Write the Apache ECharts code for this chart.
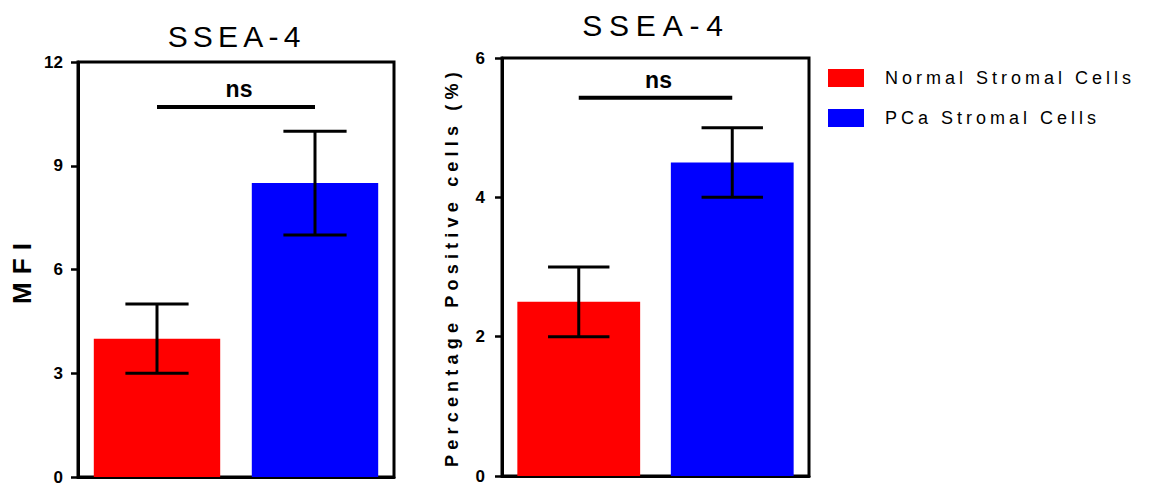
<!DOCTYPE html>
<html>
<head>
<meta charset="utf-8">
<script src="https://cdn.jsdelivr.net/npm/echarts@6/dist/echarts.min.js"></script>
<style>html,body{margin:0;padding:0;background:#fff}#c{width:1149px;height:488px}</style>
</head>
<body>
<div id="c"></div>
<script>
const categories = ['Normal Stromal Cells', 'PCa Stromal Cells'];
const mfiMean = [4, 8.5];
const mfiLow = [3, 7];
const mfiHigh = [5, 10];
const pctMean = [2.5, 4.5];
const pctLow = [2, 4];
const pctHigh = [3, 5];
const nsLevels = [10.7, 5.43];
const panelTitles = ['SSEA-4', 'SSEA-4'];
const yNames = ['MFI', 'Percentage Positive cells (%)'];
const colors = ['#ff0000', '#0000ff'];
const FONT = "'Liberation Sans', Arial, sans-serif";

// letter spacing (px) of the source figure's text, by string
const spacing = {'Normal Stromal Cells': 4, 'PCa Stromal Cells': 4, 'MFI': 8, 'Percentage Positive cells (%)': 5.2};
const titleSpacing = [5.2, 6.8];

const chart = echarts.init(document.getElementById('c'), null, {renderer: 'svg'});

function yAxisCfg(gi, max, interval, name, nameGap, nameSize, margin) {
  return {
    gridIndex: gi, type: 'value', min: 0, max: max, interval: interval,
    name: name, nameLocation: 'middle', nameGap: nameGap, nameRotate: 90,
    nameTextStyle: {fontFamily: FONT, fontWeight: 'bold', fontSize: nameSize, color: '#000'},
    axisLine: {show: true, lineStyle: {color: '#000', width: 3}},
    axisTick: {show: true, length: 7, lineStyle: {color: '#000', width: 2.5}},
    axisLabel: {fontFamily: FONT, fontWeight: 'bold', fontSize: 17, color: '#000', margin: margin},
    splitLine: {show: false}
  };
}
function xAxisCfg(gi) {
  return {
    gridIndex: gi, type: 'category', data: categories,
    axisLine: {show: true, lineStyle: {color: '#000', width: 3}},
    axisTick: {show: false}, axisLabel: {show: false}, splitLine: {show: false}
  };
}
function barSeries(gi, means) {
  return categories.map((name, i) => ({
    name: name, type: 'bar', xAxisIndex: gi, yAxisIndex: gi,
    data: means.map((v, j) => j === i ? v : '-'),
    barWidth: '80%', barGap: '-100%',
    itemStyle: {color: colors[i]}, z: 2
  }));
}
function errSeries(gi, lows, highs) {
  return {
    name: 'err' + gi, type: 'custom', xAxisIndex: gi, yAxisIndex: gi, z: 5,
    data: categories.map((c, i) => [i, lows[i], highs[i]]),
    renderItem: function (params, api) {
      const x = api.value(0);
      const lo = api.coord([x, api.value(1)]);
      const hi = api.coord([x, api.value(2)]);
      const half = api.size([1, 0])[0] * 0.2;
      const st = {stroke: '#000', lineWidth: 3};
      return {type: 'group', children: [
        {type: 'line', shape: {x1: lo[0], y1: lo[1], x2: hi[0], y2: hi[1]}, style: st},
        {type: 'line', shape: {x1: lo[0] - half, y1: lo[1], x2: lo[0] + half, y2: lo[1]}, style: st},
        {type: 'line', shape: {x1: hi[0] - half, y1: hi[1], x2: hi[0] + half, y2: hi[1]}, style: st}
      ]};
    }
  };
}
function nsSeries(gi, level) {
  return {
    name: 'ns' + gi, type: 'custom', xAxisIndex: gi, yAxisIndex: gi, z: 5,
    data: [[0, 1, level]],
    renderItem: function (params, api) {
      const a = api.coord([api.value(0), api.value(2)]);
      const b = api.coord([api.value(1), api.value(2)]);
      return {type: 'group', children: [
        {type: 'line', shape: {x1: a[0], y1: a[1], x2: b[0], y2: b[1]}, style: {stroke: '#000', lineWidth: 4}},
        {type: 'text', x: (a[0] + b[0]) / 2 + 3, y: a[1] - 6,
         style: {text: 'ns', align: 'center', verticalAlign: 'bottom', fill: '#000',
                 font: "bold 23px " + FONT}}
      ]};
    }
  };
}

const option = {
  animation: false,
  backgroundColor: '#fff',
  grid: [
    {left: 78, top: 62, width: 316, height: 415, show: true, borderColor: '#000', borderWidth: 3, containLabel: false, outerBoundsMode: 'none'},
    {left: 502, top: 58, width: 307, height: 418, show: true, borderColor: '#000', borderWidth: 3, containLabel: false, outerBoundsMode: 'none'}
  ],
  xAxis: [xAxisCfg(0), xAxisCfg(1)],
  yAxis: [
    yAxisCfg(0, 12, 3, yNames[0], 43, 26, 15),
    yAxisCfg(1, 6, 2, yNames[1], 41, 18, 17)
  ],
  legend: {
    data: categories, orient: 'vertical', left: 828, top: 69, padding: 0,
    itemWidth: 36, itemHeight: 18, itemGap: 22, icon: 'rect',
    textStyle: {fontFamily: FONT, fontSize: 18, color: '#000', padding: [0, 0, 0, 16]}
  },
  graphic: [
    {type: 'text', x: 236.6, y: 36, style: {text: panelTitles[0], align: 'center', verticalAlign: 'middle', fill: '#000', font: "30px " + FONT}},
    {type: 'text', x: 656, y: 25, style: {text: panelTitles[1], align: 'center', verticalAlign: 'middle', fill: '#000', font: "30px " + FONT}}
  ],
  series: [
    ...barSeries(0, mfiMean),
    ...barSeries(1, pctMean),
    errSeries(0, mfiLow, mfiHigh),
    errSeries(1, pctLow, pctHigh),
    nsSeries(0, nsLevels[0]),
    nsSeries(1, nsLevels[1])
  ]
};

function applySpacing() {
  const titles = [];
  document.querySelectorAll('#c text').forEach(t => {
    const txt = t.textContent.trim();
    if (txt === 'SSEA-4') { titles.push(t); return; }
    const s = spacing[txt];
    if (s) t.style.letterSpacing = s + 'px';
  });
  titles.sort((p, q) => p.getBoundingClientRect().left - q.getBoundingClientRect().left);
  titles.forEach((t, i) => { t.style.letterSpacing = titleSpacing[Math.min(i, titleSpacing.length - 1)] + 'px'; });
}
chart.on('finished', applySpacing);
chart.setOption(option);
applySpacing();
setTimeout(applySpacing, 50);
</script>
</body>
</html>
